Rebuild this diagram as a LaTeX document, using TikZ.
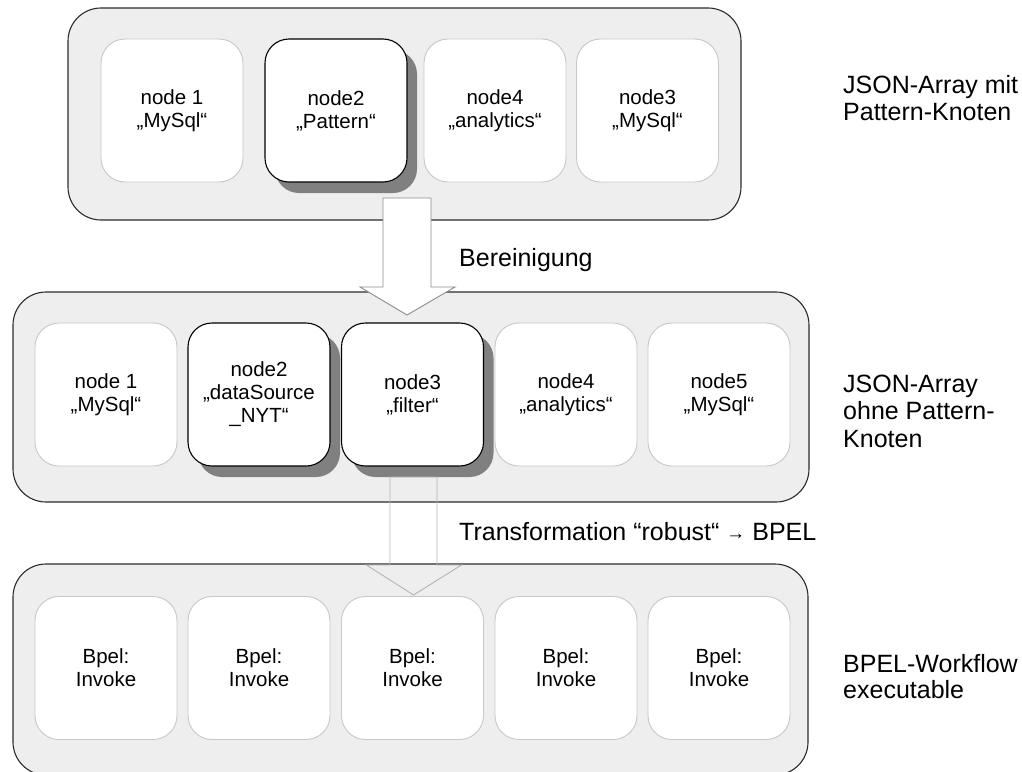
\documentclass[tikz,border=0pt]{standalone}
\usepackage{fontspec}
\setmainfont{Liberation Sans}
\usetikzlibrary{shadows}

\definecolor{panelfill}{HTML}{EEEEEE}
\definecolor{paneledge}{HTML}{2B2B2B}
\definecolor{itemedge}{HTML}{C8C8C8}
\definecolor{shadowgrey}{HTML}{808080}
\definecolor{arrowedge}{HTML}{8C8C8C}
\definecolor{arrowedgelight}{HTML}{B4B4B4}

\tikzset{
  panelbox/.style={rectangle, rounded corners=33pt, fill=panelfill, draw=paneledge,
    line width=1.1pt, inner sep=0pt},
  itembox/.style={rectangle, rounded corners=24pt, minimum width=142pt, minimum height=143pt,
    inner sep=0pt, align=center, fill=white, draw=itemedge, line width=0.9pt,
    font=\fontsize{20.5}{23}\selectfont},
  markedbox/.style={itembox, draw=black, line width=1.1pt,
    drop shadow={shadow xshift=10pt, shadow yshift=-11pt, fill=shadowgrey, opacity=1}},
  blockarrow/.style={line width=0.9pt, line join=miter},
  steplabel/.style={anchor=base west, inner sep=0pt, font=\fontsize{25}{27}\selectfont},
  sidelabel/.style={anchor=base west, inner sep=0pt, font=\fontsize{25}{27}\selectfont},
}

\begin{document}
\begin{tikzpicture}[x=1pt, y=-1pt]
\useasboundingbox (0,0) rectangle (1022,771);

% the three stages
\node[panelbox, minimum width=673pt, minimum height=212pt] (stageA) at (404.5,114) {};
\node[panelbox, minimum width=796pt, minimum height=210pt] (stageB) at (411,397) {};
\node[panelbox, minimum width=795pt, minimum height=211pt] (stageC) at (410.5,669.5) {};

% cleaning step: block arrow from the first stage into the second
\coordinate (cleanstart) at (407,198);
\draw[blockarrow, draw=arrowedge, fill=white, shift={(cleanstart)}]
  (-24,0) -- (24,0) -- (24,89) -- (48,89) -- (0,117) -- (-47,89) -- (-24,89) -- cycle;
\node[steplabel] (cleanlabel) at (459,266) {Bereinigung};

% JSON array with pattern node
\node[itembox]   (a1) at (172,110.5)   {node 1\\„MySql“};
\node[markedbox] (a2) at (336,110.5)   {node2\\„Pattern“};
\node[itembox]   (a3) at (495,110.5)   {node4\\„analytics“};
\node[itembox]   (a4) at (647.5,110.5) {node3\\„MySql“};

% JSON array without pattern node
\node[itembox]   (b1) at (106,394.5)   {node 1\\„MySql“};
\node[markedbox] (b2) at (259,394.5)   {node2\\„dataSource\\\_NYT“};
\node[markedbox] (b3) at (412.5,394.5) {node3\\„filter“};
\node[itembox]   (b4) at (566,394.5)   {node4\\„analytics“};
\node[itembox]   (b5) at (719,394.5)   {node5\\„MySql“};

% transformation step: outlined block arrow into the third stage
\coordinate (transformstart) at (413.5,477);
\draw[blockarrow, draw=arrowedgelight, shift={(transformstart)}]
  (-23.5,0) -- (23.5,0) -- (23.5,88) -- (48,88) -- (0,118) -- (-47,88) -- (-23.5,88) -- cycle;
\node[steplabel] (transformlabel) at (459,540)
  {Transformation “robust“ {\fontsize{19}{19}\selectfont\raisebox{1pt}{→}} BPEL};

% BPEL workflow
\node[itembox] (c1) at (106,668)   {Bpel:\\Invoke};
\node[itembox] (c2) at (259,668)   {Bpel:\\Invoke};
\node[itembox] (c3) at (412.5,668) {Bpel:\\Invoke};
\node[itembox] (c4) at (566,668)   {Bpel:\\Invoke};
\node[itembox] (c5) at (719,668)   {Bpel:\\Invoke};

% stage captions
\node[sidelabel] (capA1) at (843,93)  {JSON-Array mit};
\node[sidelabel] (capA2) at (843,120) {Pattern-Knoten};
\node[sidelabel] (capB1) at (843,392) {JSON-Array};
\node[sidelabel] (capB2) at (843,419.5) {ohne Pattern-};
\node[sidelabel] (capB3) at (843,447) {Knoten};
\node[sidelabel] (capC1) at (843,672.5) {BPEL-Workflow};
\node[sidelabel] (capC2) at (843,698.5) {executable};
\end{tikzpicture}
\end{document}
